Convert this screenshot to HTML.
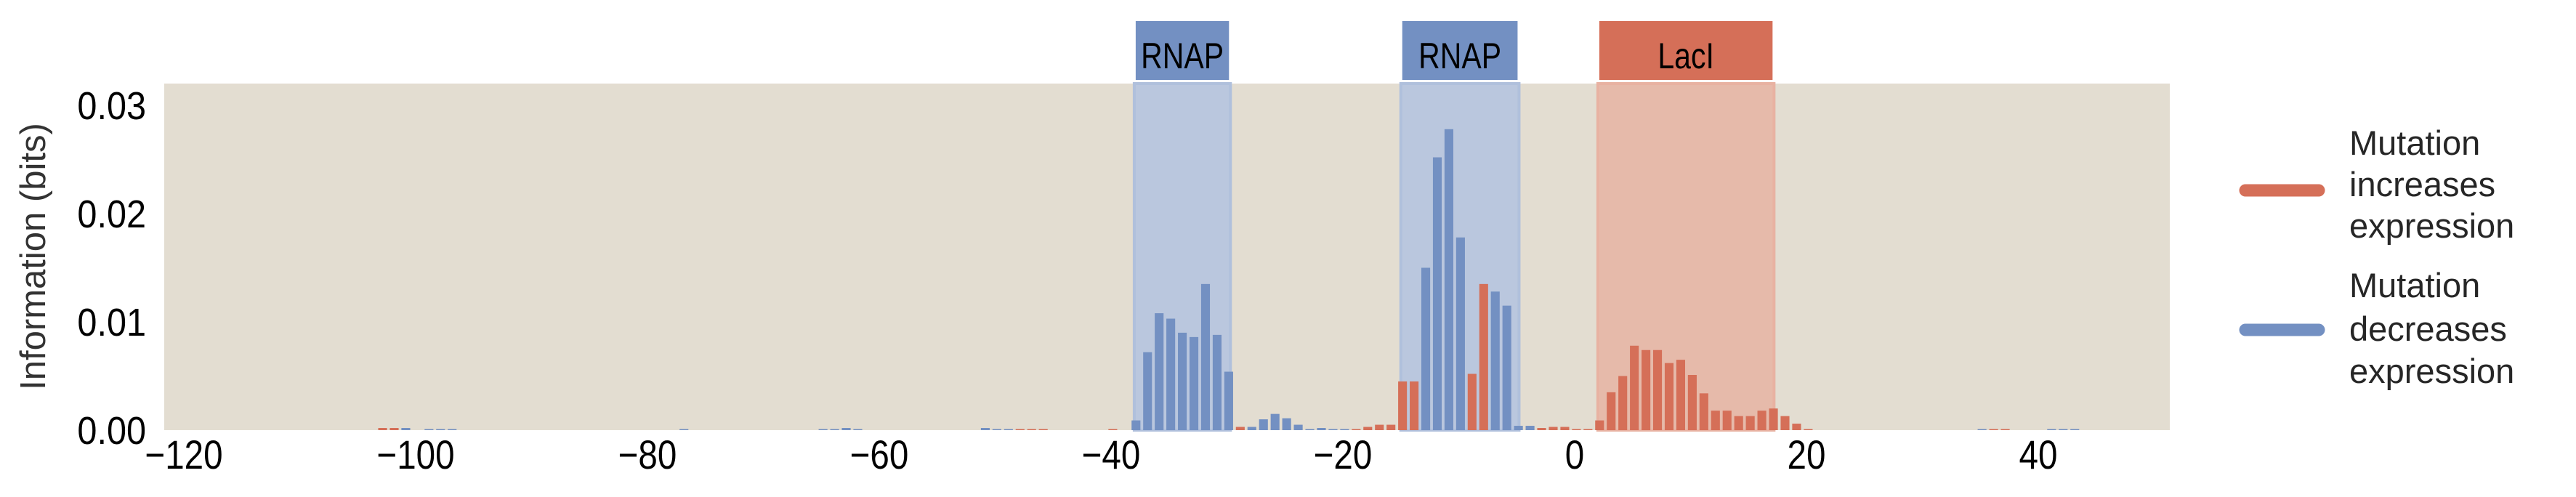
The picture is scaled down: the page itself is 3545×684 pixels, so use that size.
<!DOCTYPE html>
<html><head><meta charset="utf-8"><style>
html,body{margin:0;padding:0;background:#fff;}
svg{display:block;}
.nar{font-family:"Liberation Sans Narrow","Liberation Sans",sans-serif;}
.reg{font-family:"Liberation Sans","DejaVu Sans",sans-serif;}
</style></head><body>
<svg id="chart" width="3545" height="684" viewBox="0 0 3545 684" xmlns="http://www.w3.org/2000/svg">
<rect x="226" y="115" width="2760" height="477" fill="#e3ddd1"/>
<g id="regions"></g>
<g id="bars"></g>
<g id="xticks"></g>
<g id="yticks"></g>
<text class="reg" transform="translate(62,353) rotate(-90)" text-anchor="middle" font-size="49" fill="#333">Information (bits)</text>
<g>
<line x1="3090" y1="262" x2="3191" y2="262" stroke="#d56f58" stroke-width="17" stroke-linecap="round"/>
<text class="reg" x="3233" font-size="47" fill="#262626"><tspan x="3233" y="213">Mutation</tspan><tspan x="3233" y="270">increases</tspan><tspan x="3233" y="327">expression</tspan></text>
<line x1="3090" y1="454" x2="3191" y2="454" stroke="#7390c2" stroke-width="17" stroke-linecap="round"/>
<text class="reg" x="3233" font-size="47" fill="#262626"><tspan x="3233" y="409">Mutation</tspan><tspan x="3233" y="469">decreases</tspan><tspan x="3233" y="527">expression</tspan></text>
</g>
</svg>
<script>
const positions = [-103,-102,-101,-99,-98,-97,-77,-65,-64,-63,-62,-51,-50,-49,-48,-47,-46,-40,-38,-37,-36,-35,-34,-33,-32,-31,-30,-29,-28,-27,-26,-25,-24,-23,-22,-21,-20,-19,-18,-17,-16,-15,-14,-13,-12,-11,-10,-9,-8,-7,-6,-5,-4,-3,-2,-1,0,1,2,3,4,5,6,7,8,9,10,11,12,13,14,15,16,17,18,19,20,35,36,37,41,42,43];
const values = [0.0002,0.0002,0.0002,0.0001,0.0001,0.0001,0.0001,0.0001,0.0001,0.0002,0.0001,0.0002,0.0001,0.0001,0.0001,0.0001,0.0001,0.0001,0.0009,0.0072,0.0108,0.0103,0.0090,0.0086,0.0135,0.0088,0.0054,0.0003,0.0003,0.0010,0.0015,0.0011,0.0005,0.0001,0.0002,0.0001,0.0001,0.0001,0.0003,0.0005,0.0005,0.0045,0.0045,0.0150,0.0252,0.0278,0.0178,0.0052,0.0135,0.0128,0.0115,0.0004,0.0004,0.0002,0.0003,0.0003,0.0001,0.0001,0.0009,0.0035,0.0050,0.0078,0.0074,0.0074,0.0062,0.0065,0.0051,0.0034,0.0018,0.0018,0.0013,0.0013,0.0018,0.0020,0.0013,0.0006,0.0001,0.0001,0.0001,0.0001,0.0001,0.0001,0.0001];
const effects = ["inc","inc","dec","dec","dec","dec","dec","dec","dec","dec","dec","dec","dec","dec","inc","inc","inc","inc","dec","dec","dec","dec","dec","dec","dec","dec","dec","inc","dec","dec","dec","dec","dec","dec","dec","dec","dec","inc","inc","inc","inc","inc","inc","dec","dec","dec","dec","inc","inc","dec","dec","dec","dec","inc","inc","inc","inc","inc","inc","inc","inc","inc","inc","inc","inc","inc","inc","inc","inc","inc","inc","inc","inc","inc","inc","inc","inc","dec","inc","inc","dec","dec","dec"];
const xTicks = [-120,-100,-80,-60,-40,-20,0,20,40];
const yTicks = [0,0.01,0.02,0.03];
const yTickLabels = ["0.00","0.01","0.02","0.03"];
const regionNames = ["RNAP","RNAP","LacI"];
const regionStarts = [-38.0,-15.0,2.0];
const regionEnds = [-29.7,-4.8,17.2];
const regionKinds = ["dec","dec","inc"];

const NS="http://www.w3.org/2000/svg";
const X0=2167, UNIT=15.95, Y0=592, YPX=14900;
function xs(v){return X0+v*UNIT;}
function ys(v){return Y0-v*YPX;}
const COL={inc:"#d56f58",dec:"#7390c2"};
const SHADE={inc:"#e6baaa",dec:"#bac7de"};
const EDGE={inc:"#e8b2a2",dec:"#b0c0dc"};
function mk(t,a,p){const e=document.createElementNS(NS,t);for(const k in a)e.setAttribute(k,a[k]);p.appendChild(e);return e;}

const rg=document.getElementById('regions');
for(let i=0;i<regionNames.length;i++){
  const x1=xs(regionStarts[i]),x2=xs(regionEnds[i]),k=regionKinds[i];
  const r=mk('rect',{x:x1,y:115,width:x2-x1,height:477,fill:SHADE[k],stroke:EDGE[k],'stroke-width':4},rg);
  
  
  const b=mk('rect',{x:x1+2,y:29,width:x2-x1-4,height:81,fill:COL[k]},rg);
  
  
  const t=mk('text',{transform:'translate('+((x1+x2)/2)+',94) scale(0.82,1)','text-anchor':'middle','font-size':50,fill:'#000',class:'nar'},rg);
  t.textContent=regionNames[i];
  
  
}
const bg=document.getElementById('bars');
const BW=0.76, OFF=0.15;
for(let i=0;i<positions.length;i++){
  const cx=xs(positions[i]+OFF), top=ys(values[i]);
  const r=mk('rect',{x:cx-BW*UNIT/2,y:top,width:BW*UNIT,height:Y0-top,fill:COL[effects[i]]},bg);
  
  
}
const xg=document.getElementById('xticks');
for(const v of xTicks){
  const t=mk('text',{transform:'translate('+xs(v)+',645) scale(0.85,1)','text-anchor':'middle','font-size':56,fill:'#000',class:'nar'},xg);
  t.textContent=(v<0?'\u2212':'')+Math.abs(v);
  
  
}
const yg=document.getElementById('yticks');
for(let i=0;i<yTicks.length;i++){
  const t=mk('text',{transform:'translate(201,'+(ys(yTicks[i])+19)+') scale(0.9,1)','text-anchor':'end','font-size':54,fill:'#000',class:'nar'},yg);
  t.textContent=yTickLabels[i];
  
  
}
</script>
</body></html>
